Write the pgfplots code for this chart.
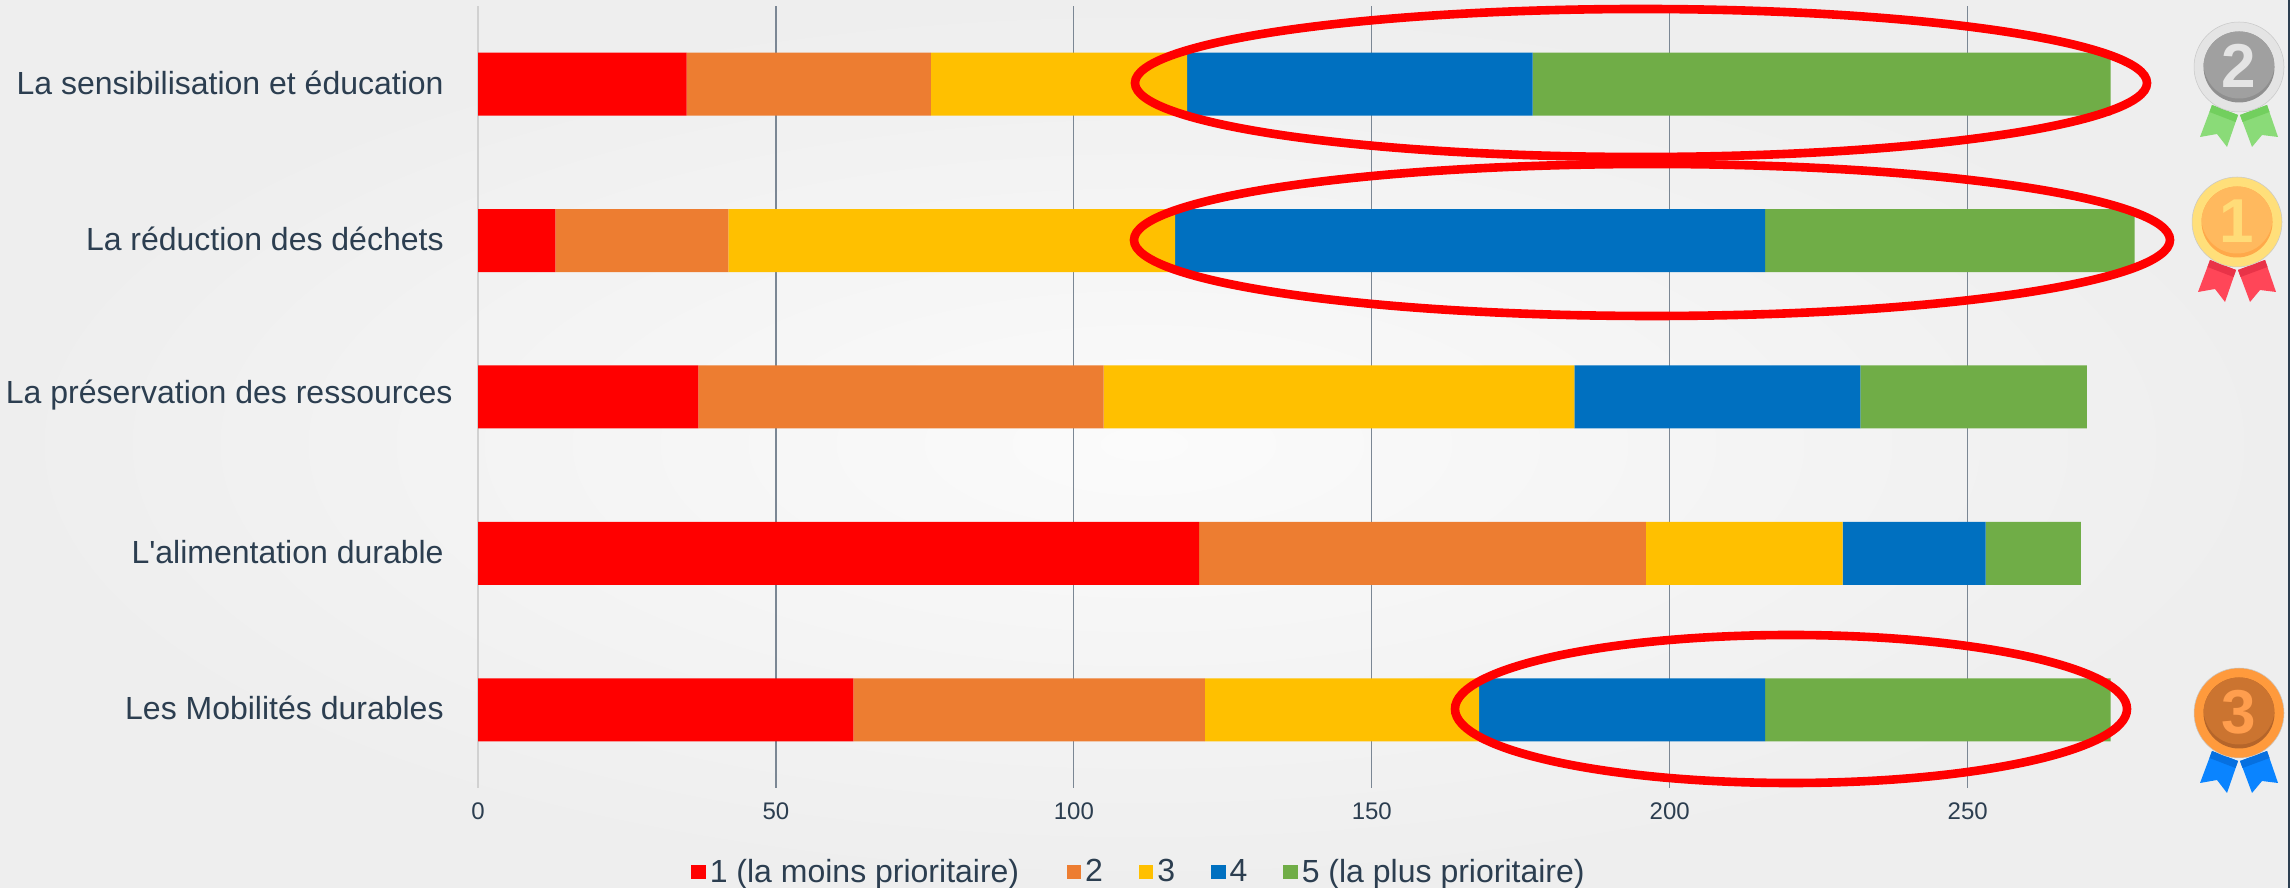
\documentclass[border=0pt]{standalone}
\usepackage{pgfplots}
\pgfplotsset{compat=1.18}
\usepackage{fontspec}
\setmainfont{Liberation Sans}
\definecolor{bar1}{HTML}{FF0000}
\definecolor{bar2}{HTML}{ED7D31}
\definecolor{bar3}{HTML}{FFC000}
\definecolor{bar4}{HTML}{0070C0}
\definecolor{bar5}{HTML}{70AD47}
\definecolor{txt}{HTML}{2C3E50}
\definecolor{gridc}{HTML}{7B8794}
\definecolor{bgin}{HTML}{FBFBFB}
\definecolor{bgout}{HTML}{EEEEEE}
\definecolor{sa}{HTML}{E4E4E4}\definecolor{sb}{HTML}{A0A0A0}\definecolor{sc}{HTML}{8F8F8F}\definecolor{sd}{HTML}{E4E4E4}\definecolor{se}{HTML}{8ADB78}\definecolor{sf}{HTML}{72CF5E}
\definecolor{ga}{HTML}{FFDF7A}\definecolor{gb}{HTML}{FFB95E}\definecolor{gc}{HTML}{FFA94A}\definecolor{gd}{HTML}{FFDC78}\definecolor{ge}{HTML}{FF4658}\definecolor{gf}{HTML}{E93348}
\definecolor{ba}{HTML}{FF9A3C}\definecolor{bb}{HTML}{CB7430}\definecolor{bc}{HTML}{B5652A}\definecolor{bd}{HTML}{FF9E4E}\definecolor{be}{HTML}{0A84FF}\definecolor{bf}{HTML}{0670E0}
\newcommand{\medal}[9]{%
\begin{scope}[shift={(#1,#2)}]
\fill[#7] (-27,-38)--(-1,-48)--(-12,-80)--(-22,-67)--(-39,-70)--cycle;
\fill[#7] (28,-38)--(1,-48)--(13,-80)--(23,-68)--(39,-70)--cycle;
\fill[#8] (-27,-38)--(-1,-48)--(-3.5,-55)--(-29.5,-45)--cycle;
\fill[#8] (28,-38)--(1,-48)--(3.5,-55)--(30.5,-45)--cycle;
\fill[#3] (0,0) circle[radius=45];
\draw[black!22,line width=0.25pt] (0,0) circle[radius=45];
\fill[#5] (0,0) circle[radius=35.5];
\begin{scope}
\clip (0,0) circle[radius=35.5];
\fill[#4] (0,4) circle[radius=35.5];
\end{scope}
\node[text=#6,font=\fontsize{31}{31}\selectfont\bfseries,inner sep=0pt] at (0,1) {#9};
\end{scope}}
\begin{document}
\begin{tikzpicture}[x=0.5pt,y=0.5pt]
\path[use as bounding box] (0,0) rectangle (2290,888);
\shade[inner color=bgin,outer color=bgout] (0,0) rectangle (2288,888);
\fill[txt] (2288,0) rectangle (2290,888);
\begin{axis}[
  at={(239pt,50pt)},anchor=south west,
  scale only axis,width=864pt,height=391pt,
  xmin=0,xmax=290,ymin=-0.5,ymax=4.5,
  xbar stacked,bar width=31.5pt,
  axis lines*=left,
  x axis line style={draw=none},
  y axis line style={draw=black!18,line width=1.2pt,-},
  xtick={0,50,100,150,200,250},
  ytick={0,1,2,3,4},
  yticklabels={Les Mobilités durables,L\textquotesingle alimentation durable,{La préservation des ressources\kern-4.4pt},La réduction des déchets,La sensibilisation et éducation},
  xmajorgrids,
  grid style={draw=gridc,line width=0.6pt},
  major tick length=0pt,
  tick style={draw=none},
  /pgf/number format/assume math mode=true,
  xticklabel style={font=\fontsize{12}{12}\selectfont,text=txt,inner sep=0pt,yshift=-7pt},
  yticklabel style={font=\fontsize{16}{16}\selectfont,text=txt,inner sep=0pt,xshift=-17pt,yshift=0.8pt},
  legend style={draw=none,fill=none,at={(106.5pt,-42pt)},anchor=west,legend columns=-1,
    font=\fontsize{16}{16}\selectfont,text=txt,inner sep=0pt,
    /tikz/every even column/.append style={column sep=16pt}},
  legend cell align=left,
  legend image code/.code={\fill[#1] (0pt,-3.6pt) rectangle (7.2pt,3.6pt);},
]
\addplot[fill=bar1,draw=none] coordinates {(63,0) (121,1) (37,2) (13,3) (35,4)};
\addplot[fill=bar2,draw=none] coordinates {(59,0) (75,1) (68,2) (29,3) (41,4)};
\addplot[fill=bar3,draw=none] coordinates {(46,0) (33,1) (79,2) (75,3) (43,4)};
\addplot[fill=bar4,draw=none] coordinates {(48,0) (24,1) (48,2) (99,3) (58,4)};
\addplot[fill=bar5,draw=none] coordinates {(58,0) (16,1) (38,2) (62,3) (97,4)};
\legend{1 (la moins prioritaire)\rule{5.8pt}{0pt},2,3,4,5 (la plus prioritaire)}
\end{axis}
\draw[bar1,line width=4.3pt] (1641,805) ellipse[x radius=506,y radius=74];
\draw[bar1,line width=4.3pt] (1652,648) ellipse[x radius=518,y radius=76];
\draw[bar1,line width=4.3pt] (1791,179) ellipse[x radius=336,y radius=74];
\medal{2239}{821}{sa}{sb}{sc}{sd}{se}{sf}{2}
\medal{2237}{666}{ga}{gb}{gc}{gd}{ge}{gf}{1}
\medal{2239}{175}{ba}{bb}{bc}{bd}{be}{bf}{3}
\end{tikzpicture}
\end{document}
